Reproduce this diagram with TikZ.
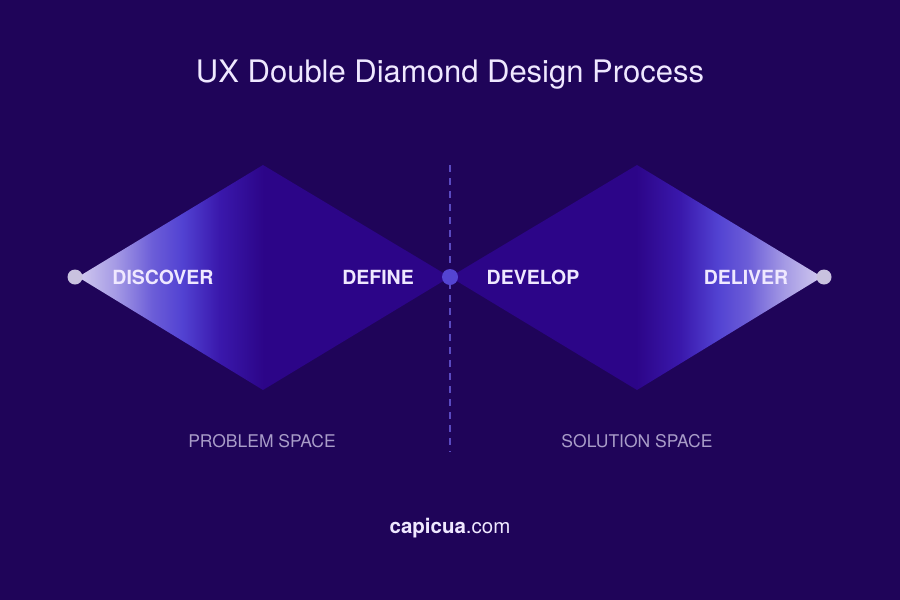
\documentclass[tikz,border=0pt]{standalone}
\usepackage{fontspec}
\setmainfont{TeX Gyre Heros}
\definecolor{bg}{HTML}{1F0459}
\definecolor{dia}{HTML}{2C0588}
\definecolor{tip}{HTML}{D2CAEF}
\definecolor{mid}{HTML}{5242D2}
\definecolor{mid2}{HTML}{3A18AC}
\definecolor{lbl}{HTML}{EFE8FF}
\definecolor{sub}{HTML}{A99DC9}
\definecolor{dotc}{HTML}{C9C2DF}
\definecolor{cdot}{HTML}{5444D2}
\definecolor{dashcol}{HTML}{5A4AC0}
\pgfdeclarehorizontalshading{leftdia}{100bp}{color(0bp)=(tip); color(25bp)=(tip); color(30bp)=(tip!65!mid); color(35bp)=(mid!80!tip); color(39bp)=(mid); color(44bp)=(mid2); color(50bp)=(dia); color(75bp)=(dia); color(100bp)=(dia)}
\pgfdeclarehorizontalshading{rightdia}{100bp}{color(0bp)=(dia); color(25bp)=(dia); color(50bp)=(dia); color(56bp)=(mid2); color(61bp)=(mid); color(65bp)=(mid!80!tip); color(70bp)=(tip!65!mid); color(75bp)=(tip); color(100bp)=(tip)}
\tikzset{
  phase/.style={text=lbl, font=\fontsize{19.5}{22}\selectfont\bfseries},
  space/.style={text=sub, font=\fontsize{17.5}{20}\selectfont},
  enddot/.style={fill=dotc, draw=none},
}
\begin{document}
\begin{tikzpicture}[x=1pt,y=-1pt]
\fill[bg] (0,0) rectangle (900,600);
\useasboundingbox (0,0) rectangle (900,600);
% diamonds
\coordinate (L1) at (78,277);
\coordinate (T1) at (263,165);
\coordinate (R1) at (450,277);
\coordinate (B1) at (263,390);
\coordinate (T2) at (637,165);
\coordinate (R2) at (822,277);
\coordinate (B2) at (637,390);
\shade[shading=leftdia] (L1) -- (T1) -- (R1) -- (B1) -- cycle;
\shade[shading=rightdia] (R1) -- (T2) -- (R2) -- (B2) -- cycle;
% dashed divider
\coordinate (DT) at (450,165);
\coordinate (DB) at (450,452);
\draw[dashcol, line width=1.3pt, dash pattern=on 7pt off 6pt] (DT) -- (DB);
% dots
\fill[enddot] (75,277) circle (7.5);
\fill[enddot] (824,277) circle (7.5);
\fill[cdot] (R1) circle (8);
% labels
\node[phase] (discover) at (163,277) {DISCOVER};
\node[phase] (define) at (378,277) {DEFINE};
\node[phase] (develop) at (533,277) {DEVELOP};
\node[phase] (deliver) at (746,277) {DELIVER};
\node[space] (problem) at (262,441) {PROBLEM SPACE};
\node[space] (solution) at (637,441) {SOLUTION SPACE};
\node[text=lbl, font=\fontsize{31}{34}\selectfont] (title) at (450,75) {UX Double Diamond Design Process};
\node[text=lbl, font=\fontsize{20.5}{22}\selectfont] (brand) at (450,528) {\textbf{capicua}.com};
\end{tikzpicture}
\end{document}
